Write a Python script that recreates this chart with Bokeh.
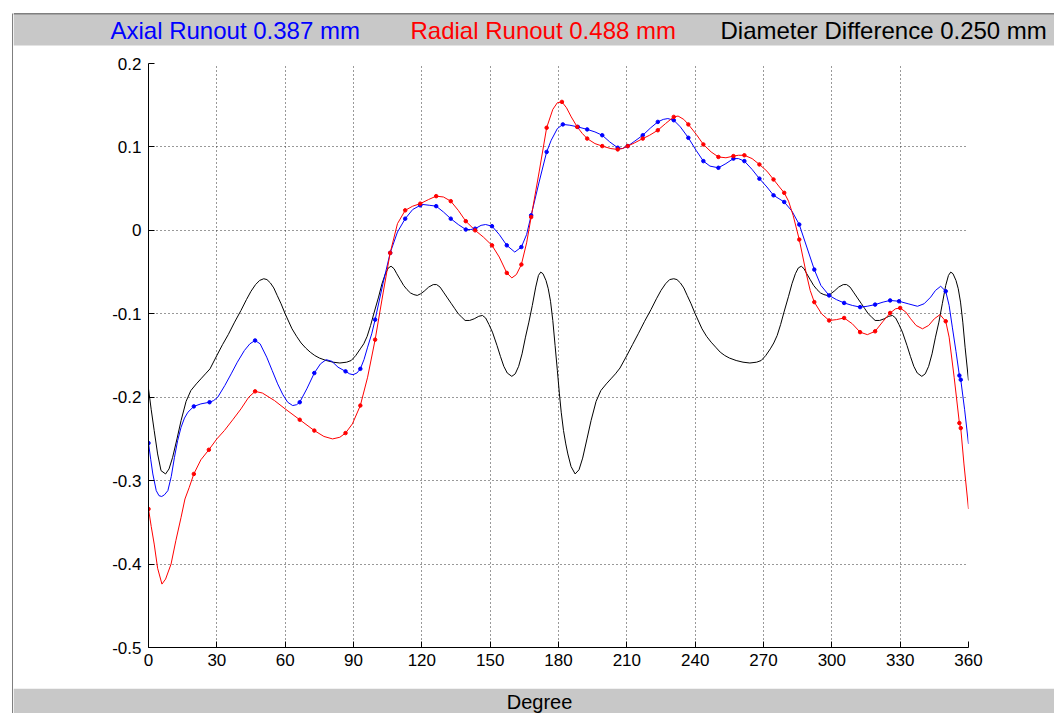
from bokeh.plotting import figure
from bokeh.models import FixedTicker
from bokeh.layouts import row, column
from bokeh.core.properties import value
from bokeh.embed import file_html
from bokeh.resources import INLINE

# ---------------- data ----------------
x_ticks = [0, 30, 60, 90, 120, 150, 180, 210, 240, 270, 300, 330, 360]
y_ticks = [-0.5, -0.4, -0.3, -0.2, -0.1, 0, 0.1, 0.2]
y_tick_labels = ["-0.5", "-0.4", "-0.3", "-0.2", "-0.1", "0", "0.1", "0.2"]

title_texts = ["Axial Runout 0.387 mm", "Radial Runout 0.488 mm", "Diameter Difference 0.250 mm"]
title_colors = ["#0000ff", "#ff0000", "#000000"]
x_label = "Degree"

# measured sample points (markers)
axial_mark_deg = [0, 19.9, 26.8, 46.8, 66.4, 72.8, 86.5, 93.0, 99.5, 106.1, 112.7, 119.3,
                  126.3, 132.7, 139.3, 143.4, 150.8, 157.3, 163.7, 168.0, 174.8, 181.9,
                  188.5, 192.6, 199.2, 206.0, 210.4, 217.0, 223.6, 230.6, 237.0, 243.6,
                  250.2, 256.8, 261.6, 268.2, 274.4, 279.1, 285.7, 292.3, 298.8, 305.4,
                  312.4, 319.0, 325.6, 329.5, 350.0, 356.0, 356.6]
axial_mark_val = [-0.255, -0.211, -0.206, -0.132, -0.206, -0.171, -0.169, -0.166, -0.107,
                  -0.027, 0.014, 0.030, 0.029, 0.014, 0.001, 0.002, 0.005, -0.018, -0.020,
                  0.018, 0.094, 0.127, 0.124, 0.121, 0.114, 0.099, 0.101, 0.114, 0.130,
                  0.132, 0.111, 0.083, 0.075, 0.086, 0.083, 0.062, 0.042, 0.034, 0.007,
                  -0.047, -0.078, -0.087, -0.092, -0.089, -0.084, -0.085, -0.073, -0.174,
                  -0.179]

radial_mark_deg = [0, 19.9, 26.5, 46.8, 66.4, 72.8, 86.5, 93.0, 99.5, 106.1, 112.7, 119.3,
                   126.3, 132.7, 139.3, 143.4, 150.8, 157.3, 163.7, 168.0, 174.8, 181.5,
                   188.2, 192.6, 199.2, 206.0, 210.4, 217.0, 223.6, 230.6, 237.0, 243.6,
                   250.2, 256.8, 261.6, 268.2, 274.4, 279.1, 285.7, 292.3, 298.8, 305.4,
                   312.4, 319.0, 325.6, 330.0, 350.0, 356.0, 356.6]
radial_mark_val = [-0.334, -0.292, -0.263, -0.193, -0.227, -0.240, -0.243, -0.210, -0.131,
                   -0.027, 0.024, 0.032, 0.041, 0.035, 0.011, 0.000, -0.018, -0.051, -0.041,
                   0.016, 0.123, 0.154, 0.124, 0.110, 0.101, 0.097, 0.101, 0.110, 0.120,
                   0.136, 0.127, 0.103, 0.088, 0.089, 0.090, 0.079, 0.061, 0.045, -0.011,
                   -0.086, -0.108, -0.105, -0.122, -0.121, -0.099, -0.093, -0.109, -0.231,
                   -0.237]

# traced curves
axial_deg = [0, 1, 1.9, 3.4, 4.6, 5.8, 7, 8.5, 10, 11.4, 12.8, 14.3, 15.8, 17.3, 19.9, 23,
             26.8, 28.6, 30.4, 33.5, 36.3, 39, 42.1, 44.5, 46.8, 49, 51.9, 54.3, 56.7, 59,
             61.1, 63.3, 65, 66.4, 69.5, 72.8, 75.5, 78.0, 80.5, 83.2, 86.5, 88.3, 89.8,
             91.5, 93.0, 94.6, 96.2, 98, 99.5, 103, 106.1, 109.3, 112.7, 116, 119.3, 120.5,
             123.5, 126.3, 129.5, 132.7, 136, 139.3, 141.5, 143.4, 146, 148.0, 150.8, 154,
             157.3, 160.8, 163.7, 166, 168.0, 171.5, 174.8, 176.8, 179.5, 181.9, 185, 188.5,
             192.6, 196, 199.2, 202.5, 206.0, 208, 210.4, 213.5, 217.0, 220.5, 223.6, 226,
             228.0, 230.6, 233.5, 237.0, 240.4, 243.6, 246.5, 250.2, 253.5, 256.8, 259,
             261.6, 265, 268.2, 271.5, 274.4, 279.1, 282.5, 285.7, 289.0, 292.3, 295.2,
             298.8, 302, 305.4, 309, 312.4, 315.5, 319.0, 322.5, 325.6, 329.5, 333.5, 337.6,
             340.5, 343.4, 345.5, 347.8, 350.0, 351.5, 352.9, 354.5, 356.0, 356.6, 358.3, 360]
axial_val = [-0.255, -0.275, -0.292, -0.312, -0.318, -0.319, -0.317, -0.312, -0.295, -0.272,
             -0.252, -0.236, -0.225, -0.218, -0.211, -0.208, -0.206, -0.204, -0.200, -0.186,
             -0.172, -0.158, -0.144, -0.136, -0.132, -0.136, -0.152, -0.168, -0.184, -0.197,
             -0.206, -0.210, -0.209, -0.206, -0.190, -0.171, -0.160, -0.155, -0.157, -0.164,
             -0.169, -0.172, -0.173, -0.171, -0.166, -0.155, -0.140, -0.124, -0.107, -0.063,
             -0.027, -0.002, 0.014, 0.025, 0.030, 0.031, 0.030, 0.029, 0.022, 0.014, 0.007,
             0.001, 0.001, 0.002, 0.006, 0.007, 0.005, -0.005, -0.018, -0.026, -0.020,
             -0.005, 0.018, 0.058, 0.094, 0.108, 0.122, 0.127, 0.126, 0.124, 0.121, 0.118,
             0.114, 0.106, 0.099, 0.098, 0.101, 0.107, 0.114, 0.123, 0.130, 0.133, 0.134,
             0.132, 0.124, 0.111, 0.096, 0.083, 0.077, 0.075, 0.080, 0.086, 0.086, 0.083,
             0.073, 0.062, 0.052, 0.042, 0.034, 0.023, 0.007, -0.020, -0.047, -0.066, -0.078,
             -0.083, -0.087, -0.090, -0.092, -0.091, -0.089, -0.086, -0.084, -0.085, -0.088,
             -0.091, -0.088, -0.080, -0.072, -0.067, -0.073, -0.090, -0.116, -0.145, -0.174,
             -0.179, -0.215, -0.256]

radial_deg = [0, 1.2, 2.5, 4, 5.9, 7.5, 9.9, 12, 14.3, 16, 17.9, 19.9, 23, 26.5, 30, 33.3,
              37, 40.6, 44, 46.8, 50, 55.3, 60, 66.4, 72.8, 77, 80.8, 84, 86.5, 89.5, 93.0,
              96.2, 99.5, 103, 106.1, 109.3, 112.7, 116, 119.3, 123, 126.3, 129.5, 132.7,
              136, 139.3, 143.4, 147, 150.8, 154, 157.3, 159.5, 161.5, 163.7, 166, 168.0,
              171.5, 174.8, 177.5, 179.5, 181.5, 183.5, 185.6, 188.2, 190.5, 192.6, 196,
              199.2, 203, 206, 208, 210.4, 213.5, 217, 220, 223.6, 227, 230.6, 232.5, 235,
              237, 240.5, 243.6, 247, 250.2, 253.5, 256.8, 259, 261.6, 265, 268.2, 271.5,
              274.4, 277, 279.1, 281, 283, 285.7, 288.8, 290.5, 292.3, 295.5, 298.8, 302,
              305.4, 309, 312.4, 315.6, 319, 322.5, 325.6, 328, 330, 332.5, 334.6, 337,
              339.8, 342.5, 345, 347.5, 350, 351.5, 353.7, 356, 356.6, 358, 360]
radial_val = [-0.334, -0.355, -0.376, -0.405, -0.424, -0.418, -0.400, -0.372, -0.344, -0.322,
              -0.308, -0.292, -0.275, -0.263, -0.250, -0.240, -0.227, -0.214, -0.200, -0.193,
              -0.195, -0.204, -0.214, -0.227, -0.240, -0.247, -0.250, -0.248, -0.243, -0.232,
              -0.210, -0.176, -0.131, -0.075, -0.027, 0.008, 0.024, 0.029, 0.032, 0.037,
              0.041, 0.040, 0.035, 0.024, 0.011, 0.000, -0.008, -0.018, -0.032, -0.051,
              -0.057, -0.053, -0.041, -0.015, 0.016, 0.070, 0.123, 0.145, 0.153, 0.154,
              0.147, 0.136, 0.124, 0.116, 0.110, 0.104, 0.101, 0.098, 0.097, 0.098, 0.101,
              0.105, 0.110, 0.114, 0.120, 0.128, 0.136, 0.137, 0.133, 0.127, 0.115, 0.103,
              0.094, 0.088, 0.087, 0.089, 0.090, 0.090, 0.086, 0.079, 0.071, 0.061, 0.052,
              0.045, 0.035, 0.018, -0.011, -0.052, -0.072, -0.086, -0.100, -0.108, -0.107,
              -0.105, -0.112, -0.122, -0.125, -0.121, -0.109, -0.099, -0.094, -0.093, -0.098,
              -0.106, -0.114, -0.118, -0.114, -0.106, -0.101, -0.109, -0.128, -0.176, -0.231,
              -0.237, -0.280, -0.334]

diam_deg = [0, 1.2, 2.5, 4, 5.5, 7.5, 9, 10.6, 12.5, 14.3, 16.5, 18.6, 21, 23, 25, 27, 30,
            32.5, 35, 37.8, 40.6, 43, 45, 47, 48.8, 50.6, 52, 53.5, 55, 56.5, 58.2, 60, 63,
            65, 67, 69, 71, 73, 75, 78, 81, 84, 87, 89, 91, 93, 94.5, 96, 97.5, 99, 101,
            102.5, 104, 105.3, 106.5, 107.8, 109, 110.5, 112, 113.5, 115, 116.5, 118, 119.5,
            121, 123, 125, 126.5, 128, 129.5, 131, 133, 134.5, 136, 137.5, 139, 141, 143,
            145, 146.6, 148, 149.5, 151, 153, 154.5, 156, 157.5, 159.5, 161, 162.5, 164,
            165.5, 167, 168.5, 170, 171.2, 172.2, 173.2, 174.5, 175.5, 176.5, 177.5, 178.5,
            179.5, 180.4, 181.2, 182.2, 183.2, 184.1, 185.5, 187.3, 189, 190.6, 192.5,
            194.3, 196.5, 198.6, 201, 203, 205, 207, 210, 212.5, 215, 217.8, 220.6, 223,
            225, 227, 228.8, 230.6, 232, 233.5, 235, 236.5, 238.2, 240, 243, 245, 247, 249,
            251, 253, 255, 258, 261, 264, 267, 269, 271, 273, 274.5, 276, 277.5, 279, 281,
            282.5, 284, 285.3, 286.6, 287.8, 289, 290.5, 292, 293.5, 295, 296.5, 298, 299.5,
            301, 303, 305, 306.5, 308, 309.5, 311, 313, 314.5, 316, 317.5, 319, 321, 323,
            325, 326.6, 328, 329.5, 331, 333, 334.5, 336, 337.5, 339.5, 341, 342.5, 344,
            345.5, 347, 348.5, 350, 351.2, 352.2, 353.2, 354.5, 355.5, 356.5, 357.5, 358.5,
            360]
diam_val = [-0.190, -0.215, -0.240, -0.268, -0.288, -0.292, -0.286, -0.272, -0.250, -0.228,
            -0.205, -0.192, -0.184, -0.178, -0.172, -0.166, -0.150, -0.137, -0.125, -0.110,
            -0.096, -0.083, -0.073, -0.065, -0.060, -0.058, -0.059, -0.063, -0.069, -0.078,
            -0.088, -0.100, -0.118, -0.127, -0.135, -0.141, -0.146, -0.150, -0.153, -0.156,
            -0.158, -0.159, -0.158, -0.156, -0.150, -0.142, -0.136, -0.127, -0.114, -0.099,
            -0.080, -0.064, -0.052, -0.045, -0.043, -0.046, -0.052, -0.059, -0.066, -0.071,
            -0.075, -0.077, -0.078, -0.076, -0.073, -0.068, -0.065, -0.065, -0.068, -0.074,
            -0.080, -0.088, -0.094, -0.100, -0.104, -0.108, -0.108, -0.106, -0.103, -0.102,
            -0.105, -0.113, -0.122, -0.138, -0.151, -0.163, -0.171, -0.175, -0.172, -0.163,
            -0.148, -0.128, -0.110, -0.090, -0.068, -0.054, -0.050, -0.052, -0.060, -0.070,
            -0.085, -0.108, -0.138, -0.168, -0.196, -0.218, -0.240, -0.256, -0.268, -0.283,
            -0.292, -0.287, -0.273, -0.250, -0.228, -0.205, -0.192, -0.184, -0.178, -0.172,
            -0.165, -0.150, -0.137, -0.124, -0.109, -0.095, -0.082, -0.072, -0.064, -0.059,
            -0.058, -0.059, -0.063, -0.069, -0.078, -0.088, -0.100, -0.118, -0.127, -0.134,
            -0.140, -0.146, -0.150, -0.153, -0.156, -0.158, -0.159, -0.158, -0.156, -0.150,
            -0.142, -0.135, -0.126, -0.113, -0.098, -0.079, -0.064, -0.052, -0.045, -0.043,
            -0.046, -0.052, -0.059, -0.066, -0.071, -0.075, -0.077, -0.078, -0.076, -0.073,
            -0.068, -0.065, -0.065, -0.068, -0.074, -0.080, -0.088, -0.094, -0.100, -0.104,
            -0.108, -0.108, -0.106, -0.103, -0.102, -0.105, -0.113, -0.122, -0.138, -0.151,
            -0.163, -0.171, -0.175, -0.172, -0.163, -0.148, -0.128, -0.110, -0.088, -0.066,
            -0.054, -0.050, -0.052, -0.060, -0.070, -0.086, -0.110, -0.140, -0.180]

BLUE = "#0000ff"
RED = "#ff0000"
GRAY = "#c8c8c8"
FONT = "Liberation Sans"

COL_W = 1041   # width of the right-hand column (window 1054 minus left strip 13)


def deco_figure(w, h):
    f = figure(width=w, height=h, x_range=(0, w), y_range=(h, 0),
               x_axis_type=None, y_axis_type=None, min_border=0,
               toolbar_location=None, output_backend="svg")
    f.frame_align = False
    f.outline_line_color = None
    f.background_fill_color = "white"
    f.border_fill_color = "white"
    f.grid.visible = False
    return f


# left strip with the window frame line
left = deco_figure(13, 713)
left.quad(left=12, right=13, top=13, bottom=713, fill_color="black", line_color=None)

# header band with the three runout texts
header = deco_figure(COL_W, 46)
header.quad(left=0, right=COL_W, top=13, bottom=14, fill_color="black", line_color=None)
header.quad(left=0, right=COL_W, top=14, bottom=45, fill_color=GRAY, line_color=None)
header.text(x=[97, 397, 707], y=[30, 30, 30], text=title_texts, text_color=title_colors,
            text_font=value(FONT), text_font_size="24px",
            text_baseline="middle", text_align="left")

# main chart
p = figure(width=COL_W, height=642, output_backend="svg", toolbar_location=None,
           x_range=(0, 360), y_range=(-0.5, 0.2),
           min_border_left=135, min_border_right=86,
           min_border_top=17, min_border_bottom=41)
p.frame_align = False
p.outline_line_color = None
p.background_fill_color = "white"
p.border_fill_color = "white"

p.xaxis.ticker = FixedTicker(ticks=x_ticks)
p.yaxis.ticker = FixedTicker(ticks=y_ticks)
p.yaxis.major_label_overrides = {t: s for t, s in zip(y_ticks, y_tick_labels)}
for ax in (p.xaxis, p.yaxis):
    ax.axis_line_color = "black"
    ax.axis_line_width = 1
    ax.major_tick_in = 6
    ax.major_tick_out = 0
    ax.major_tick_line_color = "black"
    ax.minor_tick_line_color = None
    ax.major_label_text_font = FONT
    ax.major_label_text_font_size = "17px"
    ax.major_label_text_color = "black"
p.xaxis.major_label_standoff = 6
p.yaxis.major_label_standoff = 7

p.grid.grid_line_color = "#333333"
p.grid.grid_line_dash = "1 3"
p.grid.grid_line_width = 1

p.line(diam_deg, diam_val, line_color="black", line_width=1)
p.line(axial_deg, axial_val, line_color=BLUE, line_width=1)
p.line(radial_deg, radial_val, line_color=RED, line_width=1)
p.scatter(axial_mark_deg, axial_mark_val, marker="circle", size=3.5,
          fill_color=BLUE, line_color=BLUE)
p.scatter(radial_mark_deg, radial_mark_val, marker="circle", size=3.5,
          fill_color=RED, line_color=RED)

# footer band with the axis title
footer = deco_figure(COL_W, 25)
footer.quad(left=0, right=COL_W, top=0, bottom=25, fill_color=GRAY, line_color=None)
footer.text(x=[526], y=[13], text=[x_label], text_color="black",
            text_font=value(FONT), text_font_size="20px",
            text_baseline="middle", text_align="center")

layout = row(left, column(header, p, footer, spacing=0), spacing=0)

open("out.html", "w").write(file_html(layout, INLINE))
